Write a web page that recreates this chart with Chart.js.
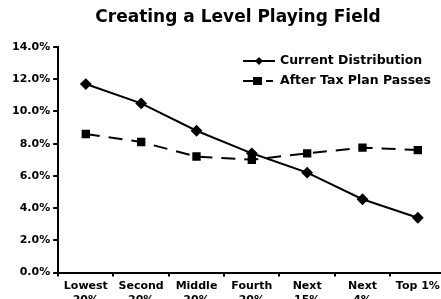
<!DOCTYPE html>
<html>
<head>
<meta charset="utf-8">
<script src="https://cdn.jsdelivr.net/npm/chart.js@4/dist/chart.umd.min.js"></script>
<style>
  html, body { margin: 0; padding: 0; background: #fff; overflow: hidden; }
  #wrap { width: 452px; height: 311px; position: relative; }
</style>
</head>
<body>
<div id="wrap"><canvas id="chart"></canvas></div>
<script>
// data
const categories = [["Lowest", "20%"], ["Second", "20%"], ["Middle", "20%"], ["Fourth", "20%"], ["Next", "15%"], ["Next", "4%"], ["Top 1%"]];
const currentDistribution = [11.7, 10.5, 8.8, 7.4, 6.2, 4.55, 3.4];
const afterTaxPlan = [8.6, 8.1, 7.2, 7.0, 7.4, 7.75, 7.6];
const seriesNames = ["Current Distribution", "After Tax Plan Passes"];
const chartTitle = "Creating a Level Playing Field";
const yTicks = [0, 2, 4, 6, 8, 10, 12, 14];

const FONT = "'DejaVu Sans', Verdana, sans-serif";

// title + legend drawn by hand so they sit where the original has them
const overlay = {
    id: "overlay",
    afterDraw(chart) {
        const ctx = chart.ctx;
        ctx.save();
        ctx.fillStyle = "#000";
        ctx.font = "bold 17px " + FONT;
        ctx.textAlign = "center";
        ctx.textBaseline = "middle";
        ctx.fillText(chartTitle, 238, 18);

        ctx.strokeStyle = "#000";
        ctx.lineWidth = 2;

        // current distribution: solid line + diamond
        let y = 61;
        ctx.beginPath();
        ctx.moveTo(243, y);
        ctx.lineTo(275, y);
        ctx.stroke();
        ctx.beginPath();
        ctx.moveTo(259, y - 4);
        ctx.lineTo(263, y);
        ctx.lineTo(259, y + 4);
        ctx.lineTo(255, y);
        ctx.closePath();
        ctx.fill();

        // after tax plan: dashed line + square
        y = 81;
        ctx.beginPath();
        ctx.moveTo(243, y);
        ctx.lineTo(253, y);
        ctx.moveTo(266, y);
        ctx.lineTo(273, y);
        ctx.stroke();
        ctx.fillRect(253, y - 4, 9, 8);

        ctx.font = "bold 12.5px " + FONT;
        ctx.textAlign = "left";
        ctx.fillText(seriesNames[0], 280, 61);
        ctx.fillText(seriesNames[1], 280, 81);
        ctx.restore();
    }
};

const chart = new Chart(document.getElementById("chart"), {
    type: "line",
    data: {
        labels: categories,
        datasets: [
            {
                label: seriesNames[0],
                data: currentDistribution,
                borderColor: "#000",
                backgroundColor: "#000",
                borderWidth: 2,
                pointStyle: "rectRot",
                pointRadius: 4.5,
                pointHoverRadius: 4.5,
                tension: 0
            },
            {
                label: seriesNames[1],
                data: afterTaxPlan,
                borderColor: "#000",
                backgroundColor: "#000",
                borderWidth: 2,
                borderDash: [14, 9],
                pointStyle: "rect",
                pointRadius: 4.5,
                pointHoverRadius: 4.5,
                tension: 0
            }
        ]
    },
    options: {
        responsive: true,
        maintainAspectRatio: false,
        animation: false,
        layout: { padding: { left: 9, right: 3, top: 47, bottom: 1 } },
        plugins: {
            legend: { display: false },
            tooltip: { enabled: false },
            title: { display: false }
        },
        scales: {
            x: {
                offset: true,
                grid: {
                    offset: true,
                    drawOnChartArea: false,
                    drawTicks: true,
                    tickLength: 4,
                    color: "#000",
                    lineWidth: 2
                },
                border: { display: true, color: "#000", width: 2 },
                ticks: {
                    color: "#000",
                    maxRotation: 0,
                    autoSkip: false,
                    padding: 3,
                    font: { family: FONT, size: 11, weight: "bold", lineHeight: 1.25 }
                }
            },
            y: {
                min: 0,
                max: 14,
                afterBuildTicks(axis) {
                    axis.ticks = yTicks.map(v => ({ value: v }));
                },
                grid: {
                    drawOnChartArea: false,
                    drawTicks: true,
                    tickLength: 5,
                    color: "#000",
                    lineWidth: 2
                },
                border: { display: true, color: "#000", width: 2 },
                ticks: {
                    color: "#000",
                    padding: 3,
                    font: { family: FONT, size: 11, weight: "bold" },
                    callback: v => v.toFixed(1) + "%"
                }
            }
        }
    },
    plugins: [overlay]
});
</script>
</body>
</html>
